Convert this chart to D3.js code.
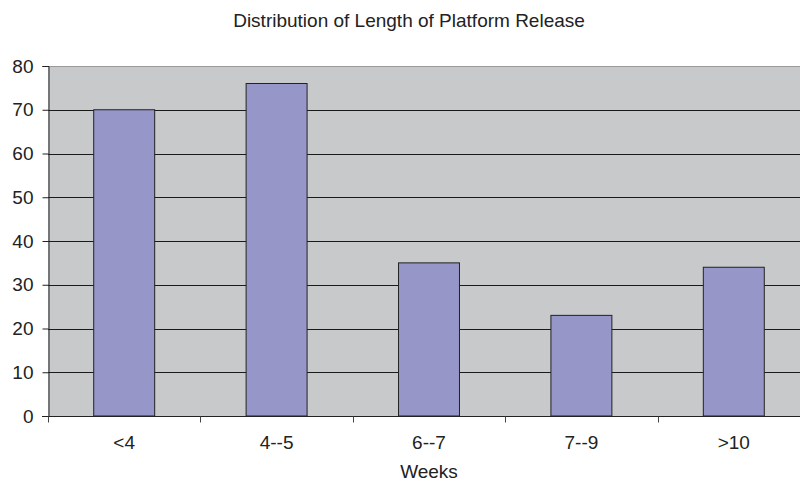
<!DOCTYPE html>
<html>
<head>
<meta charset="utf-8">
<script src="https://cdn.jsdelivr.net/npm/d3@7"></script>
<style>
  body { margin: 0; background: #fff; }
  svg { display: block; font-family: "Liberation Sans", Arial, sans-serif; }
</style>
</head>
<body>
<div id="chart"></div>
<script>
const categories = ['<4', '4--5', '6--7', '7--9', '>10']
const counts = [70, 76, 35, 23, 34]
const yTicks = [0, 10, 20, 30, 40, 50, 60, 70, 80]

const width = 800
const height = 484
const plot = { left: 48, top: 66, right: 810, bottom: 416 }

const svg = d3.select('#chart')
    .append('svg')
    .attr('width', width)
    .attr('height', height)

const x = d3.scaleBand()
    .domain(categories)
    .range([plot.left, plot.right])
    .paddingInner(0.6)
    .paddingOuter(0.3)

// band edges for the category tick marks
const xEdges = d3.scaleBand()
    .domain(categories)
    .range([plot.left, plot.right])

const y = d3.scaleLinear()
    .domain([0, 80])
    .range([plot.bottom, plot.top])

// plot background
svg.append('rect')
    .attr('x', plot.left)
    .attr('y', plot.top)
    .attr('width', plot.right - plot.left)
    .attr('height', plot.bottom - plot.top)
    .attr('fill', '#c8c9cb')

svg.append('line')
    .attr('x1', plot.left).attr('x2', plot.right)
    .attr('y1', plot.top + 0.5).attr('y2', plot.top + 0.5)
    .attr('stroke', '#999')

// gridlines
svg.append('g')
    .selectAll('line')
    .data(yTicks.filter(d => d > 0 && d < 80))
    .enter()
    .append('line')
    .attr('x1', plot.left).attr('x2', plot.right)
    .attr('y1', d => Math.round(y(d)) + 0.5)
    .attr('y2', d => Math.round(y(d)) + 0.5)
    .attr('stroke', '#1a1a1a')
    .attr('stroke-width', 1.2)

// bars
svg.append('g')
    .selectAll('rect')
    .data(counts)
    .enter()
    .append('rect')
    .attr('x', (d, i) => x(categories[i]))
    .attr('y', d => y(d))
    .attr('width', x.bandwidth())
    .attr('height', d => y(0) - y(d))
    .attr('fill', '#9696c9')
    .attr('stroke', '#222')
    .attr('stroke-width', 1)

// y axis
const yAxis = svg.append('g')
    .attr('transform', `translate(${plot.left + 0.5},0)`)
    .call(d3.axisLeft(y).tickValues(yTicks).tickSize(6).tickPadding(9))
yAxis.select('.domain').attr('stroke', '#222')
yAxis.selectAll('.tick line').attr('stroke', '#222')
yAxis.selectAll('.tick text')
    .attr('fill', '#222')
    .style('font-size', '19px')
    .style('font-family', '"Liberation Sans", Arial, sans-serif')

// x axis
const xAxisG = svg.append('g')
    .attr('transform', `translate(0,${plot.bottom + 0.5})`)
xAxisG.append('line')
    .attr('x1', plot.left - 6).attr('x2', plot.right)
    .attr('stroke', '#222')
xAxisG.selectAll('.edge')
    .data(categories)
    .enter()
    .append('line')
    .attr('class', 'edge')
    .attr('x1', d => Math.round(xEdges(d)) + 0.5)
    .attr('x2', d => Math.round(xEdges(d)) + 0.5)
    .attr('y1', 0).attr('y2', 6)
    .attr('stroke', '#444')
xAxisG.selectAll('.lbl')
    .data(categories)
    .enter()
    .append('text')
    .attr('class', 'lbl')
    .attr('x', d => x(d) + x.bandwidth() / 2)
    .attr('y', 32)
    .attr('text-anchor', 'middle')
    .attr('fill', '#222')
    .style('font-size', '19px')
    .text(d => d)

svg.append('text')
    .attr('x', 429)
    .attr('y', 478)
    .attr('text-anchor', 'middle')
    .attr('fill', '#222')
    .style('font-size', '19px')
    .text('Weeks')

svg.append('text')
    .attr('x', 409)
    .attr('y', 27)
    .attr('text-anchor', 'middle')
    .attr('fill', '#222')
    .style('font-size', '19px')
    .text('Distribution of Length of Platform Release')
</script>
</body>
</html>
